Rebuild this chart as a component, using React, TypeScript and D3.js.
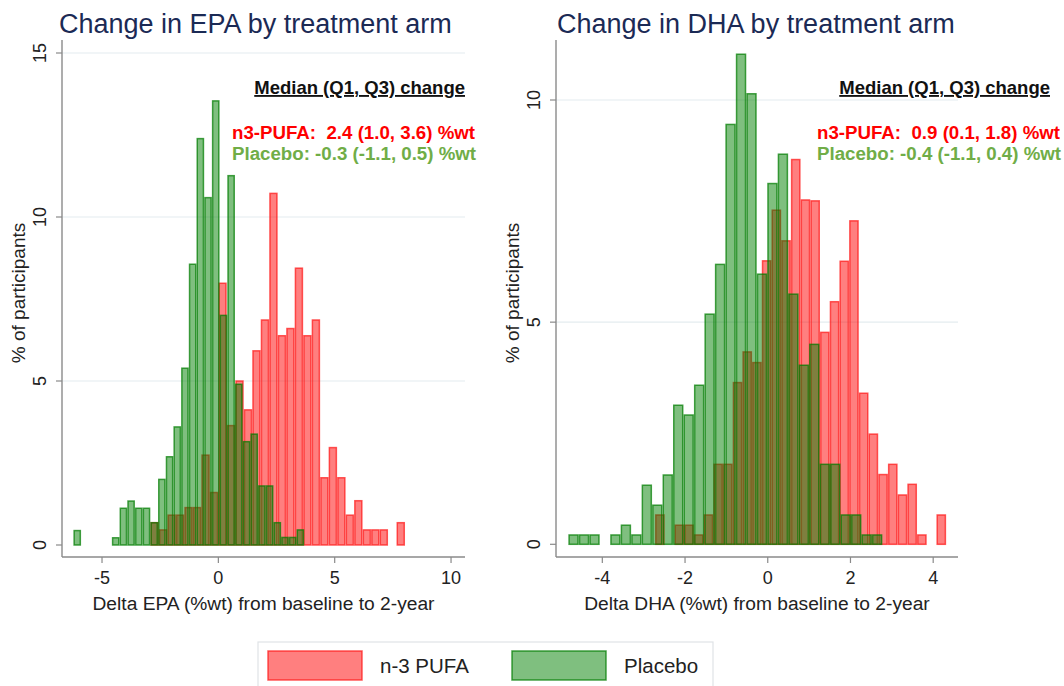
import React from "react";
import * as d3 from "d3";

// ---------- DATA ----------
// Histogram bins: each series has 30 bins (start, width) and the % of participants in each bin
const epaN3Start = -2.922;
const epaN3Width = 0.3648;
const epaN3Values = [
  0.68, 0.46, 0.91, 0.91, 1.14, 1.14, 2.74, 1.6, 7.98, 3.64,
  5.0, 4.12, 5.92, 6.86, 10.72, 6.38, 6.6, 8.44, 6.38, 6.86,
  2.05, 2.97, 2.05, 0.91, 1.35, 0.46, 0.46, 0.46, 0, 0.68,
];
const epaPlStart = -6.231;
const epaPlWidth = 0.3307;
const epaPlValues = [
  0.44, 0, 0, 0, 0, 0.22, 1.12, 1.34, 1.12, 1.12,
  0.68, 2.0, 2.69, 3.6, 5.39, 8.56, 12.39, 10.59, 13.54, 7.0,
  11.26, 4.9, 3.15, 3.38, 1.8, 1.8, 0.68, 0.23, 0.23, 0.46,
];
const dhaN3Start = -2.725;
const dhaN3Width = 0.2346;
const dhaN3Values = [
  0.66, 0, 0.43, 0.43, 0.21, 0.66, 1.8, 1.8, 3.64, 4.33,
  4.09, 6.38, 7.52, 6.83, 8.66, 7.75, 7.73, 4.77, 5.46, 6.37,
  7.28, 3.4, 2.48, 1.57, 1.8, 1.11, 1.35, 0.21, 0, 0.66,
];
const dhaPlStart = -4.822;
const dhaPlWidth = 0.2531;
const dhaPlValues = [
  0.21, 0.21, 0.21, 0, 0.21, 0.43, 0.21, 1.33, 0.88, 1.56,
  3.13, 2.91, 3.58, 5.18, 6.3, 9.45, 11.03, 10.14, 6.08, 8.12,
  8.78, 5.63, 4.03, 4.5, 1.8, 1.8, 0.66, 0.66, 0.21, 0.21,
];

const epaXTicks = [-5, 0, 5, 10];
const epaYTicks = [0, 5, 10, 15];
const dhaXTicks = [-4, -2, 0, 2, 4];
const dhaYTicks = [0, 5, 10];

const titles = ["Change in EPA by treatment arm", "Change in DHA by treatment arm"];
const xTitles = [
  "Delta EPA (%wt) from baseline to 2-year",
  "Delta DHA (%wt) from baseline to 2-year",
];
const yTitle = "% of participants";
const medianHeader = "Median (Q1, Q3) change";
const n3Labels = ["n3-PUFA:  2.4 (1.0, 3.6) %wt", "n3-PUFA:  0.9 (0.1, 1.8) %wt"];
const plLabels = ["Placebo: -0.3 (-1.1, 0.5) %wt", "Placebo: -0.4 (-1.1, 0.4) %wt"];
const legendLabels = ["n-3 PUFA", "Placebo"];

// ---------- STYLE ----------
const FONT = "'Liberation Sans', Arial, sans-serif";
const RED_FILL = "rgba(255,0,0,0.5)";
const RED_STROKE = "rgba(255,20,20,0.7)";
const GREEN_FILL = "rgba(0,128,0,0.5)";
const GREEN_STROKE = "rgba(0,125,0,0.72)";
const AXIS = "#8a8a8a";
const GRID = "#e4ecef";
const TITLE_COLOR = "#1b2a55";

type PanelProps = {
  idx: number;
  xDomain: [number, number];
  xRange: [number, number];
  yDomain: [number, number];
  yRange: [number, number];
  xTicks: number[];
  yTicks: number[];
  series: { start: number; width: number; values: number[]; fill: string; stroke: string }[];
  annoRight: number;
  annoLeft: number;
  titleX: number;
};

function Panel(p: PanelProps) {
  const x = d3.scaleLinear().domain(p.xDomain).range(p.xRange);
  const y = d3.scaleLinear().domain(p.yDomain).range(p.yRange);
  const axisY = 557;
  const top = 40;
  const [x0, x1] = p.xRange;
  const midX = (x0 + x1) / 2;
  return (
    <g>
      {p.yTicks.filter((t) => t > 0).map((t) => (
        <line key={"g" + t} x1={x0} x2={x1} y1={y(t)} y2={y(t)} stroke={GRID} strokeWidth={1.2} />
      ))}
      {p.series.map((s, si) => (
        <g key={"s" + si}>
          {s.values.map((v, i) => {
            if (v <= 0) return null;
            const a = x(s.start + i * s.width);
            const b = x(s.start + (i + 1) * s.width);
            return (
              <rect
                key={i}
                x={a + 0.75}
                y={y(v)}
                width={b - a - 1.5}
                height={y(0) - y(v)}
                fill={s.fill}
                stroke={s.stroke}
                strokeWidth={1.5}
              />
            );
          })}
        </g>
      ))}
      <line x1={x0} x2={x0} y1={top} y2={axisY} stroke={AXIS} strokeWidth={1.4} />
      <line x1={x0} x2={x1} y1={axisY} y2={axisY} stroke={AXIS} strokeWidth={1.4} />
      {p.yTicks.map((t) => (
        <g key={"yt" + t}>
          <line x1={x0 - 6} x2={x0} y1={y(t)} y2={y(t)} stroke={AXIS} strokeWidth={1.2} />
          <text
            x={x0 - 16}
            y={y(t)}
            transform={`rotate(-90, ${x0 - 16}, ${y(t)})`}
            textAnchor="middle"
            fontFamily={FONT}
            fontSize={18}
            fill="#222"
          >
            {t}
          </text>
        </g>
      ))}
      {p.xTicks.map((t) => (
        <g key={"xt" + t}>
          <line x1={x(t)} x2={x(t)} y1={axisY} y2={axisY + 6} stroke={AXIS} strokeWidth={1.2} />
          <text x={x(t)} y={axisY + 27} textAnchor="middle" fontFamily={FONT} fontSize={18} fill="#222">
            {t}
          </text>
        </g>
      ))}
      <text x={midX} y={610} textAnchor="middle" fontFamily={FONT} fontSize={19.2} fill="#222">
        {xTitles[p.idx]}
      </text>
      <text
        x={x0 - 37}
        y={293}
        transform={`rotate(-90, ${x0 - 37}, 293)`}
        textAnchor="middle"
        fontFamily={FONT}
        fontSize={19}
        fill="#222"
      >
        {yTitle}
      </text>
      <text x={p.titleX} y={33} fontFamily={FONT} fontSize={27} fill={TITLE_COLOR}>
        {titles[p.idx]}
      </text>
      <text
        x={p.annoRight}
        y={94}
        textAnchor="end"
        fontFamily={FONT}
        fontSize={18.5}
        fontWeight="bold"
        fill="#111"
        textDecoration="underline"
      >
        {medianHeader}
      </text>
      <text x={p.annoLeft} y={138.5} fontFamily={FONT} fontSize={18.7} fontWeight="bold" fill="#ff0000" style={{ whiteSpace: "pre" }}>
        {n3Labels[p.idx]}
      </text>
      <text x={p.annoLeft} y={160} fontFamily={FONT} fontSize={18.7} fontWeight="bold" fill="#70ad47">
        {plLabels[p.idx]}
      </text>
    </g>
  );
}

export default function App() {
  return (
    <svg
      width={1064}
      height={686}
      style={{ position: "absolute", left: 0, top: 0, background: "#fff" }}
      xmlns="http://www.w3.org/2000/svg"
    >
      <rect x={0} y={0} width={1064} height={686} fill="#fff" />
      <Panel
        idx={0}
        xDomain={[-6.72, 10.6]}
        xRange={[62, 465]}
        yDomain={[0, 15]}
        yRange={[545, 53]}
        xTicks={epaXTicks}
        yTicks={epaYTicks}
        series={[
          { start: epaN3Start, width: epaN3Width, values: epaN3Values, fill: RED_FILL, stroke: RED_STROKE },
          { start: epaPlStart, width: epaPlWidth, values: epaPlValues, fill: GREEN_FILL, stroke: GREEN_STROKE },
        ]}
        annoRight={465}
        annoLeft={232}
        titleX={59}
      />
      <Panel
        idx={1}
        xDomain={[-5.12, 4.6]}
        xRange={[556, 958]}
        yDomain={[0, 10]}
        yRange={[544.3, 100]}
        xTicks={dhaXTicks}
        yTicks={dhaYTicks}
        series={[
          { start: dhaN3Start, width: dhaN3Width, values: dhaN3Values, fill: RED_FILL, stroke: RED_STROKE },
          { start: dhaPlStart, width: dhaPlWidth, values: dhaPlValues, fill: GREEN_FILL, stroke: GREEN_STROKE },
        ]}
        annoRight={1050}
        annoLeft={817}
        titleX={557}
      />
      <rect x={258} y={642} width={455} height={52} fill="#fff" stroke="#dfe3e6" strokeWidth={1.2} />
      <rect x={268} y={651} width={94} height={29} fill={RED_FILL} stroke={RED_STROKE} strokeWidth={1.5} />
      <text x={380} y={673} fontFamily={FONT} fontSize={20.5} fill="#222">
        {legendLabels[0]}
      </text>
      <rect x={512} y={651} width={94} height={29} fill={GREEN_FILL} stroke={GREEN_STROKE} strokeWidth={1.5} />
      <text x={624} y={673} fontFamily={FONT} fontSize={20.5} fill="#222">
        {legendLabels[1]}
      </text>
    </svg>
  );
}
